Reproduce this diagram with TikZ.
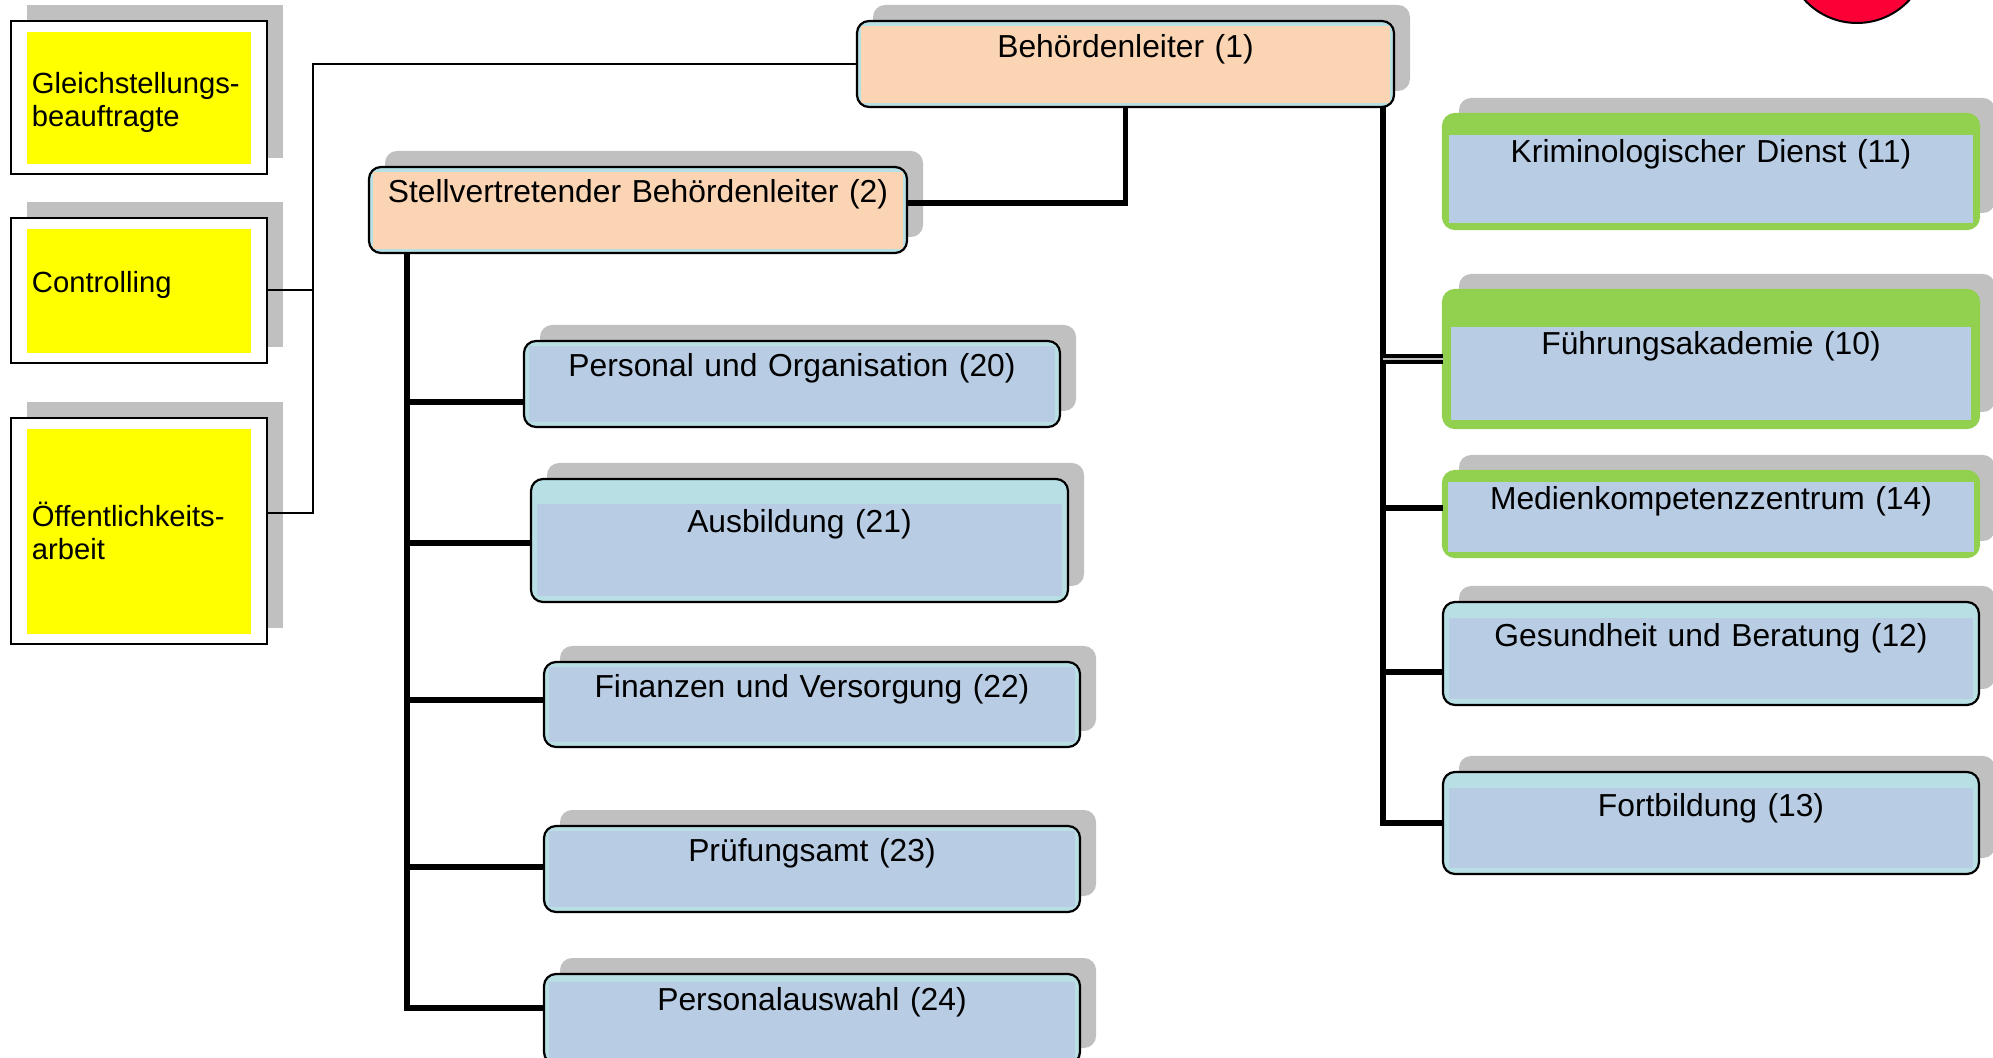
\documentclass[tikz,border=0pt]{standalone}
\usepackage{fontspec}
\setmainfont{Liberation Sans}
\usetikzlibrary{positioning,shadows}

\definecolor{peach}{RGB}{251,212,180}
\definecolor{bandcyan}{RGB}{183,223,228}
\definecolor{unitblue}{RGB}{184,204,228}
\definecolor{unitgreen}{RGB}{146,208,80}
\definecolor{staffyellow}{RGB}{255,255,0}
\definecolor{shadowgrey}{RGB}{192,192,192}
\definecolor{logored}{RGB}{250,0,55}

\newcommand{\unitfont}{\fontsize{15.9pt}{18pt}\selectfont}
\newcommand{\stafffont}{\fontsize{14.6pt}{16.8pt}\selectfont}

\tikzset{
  grey shadow/.style={drop shadow={shadow xshift=8pt, shadow yshift=8pt, fill=shadowgrey, opacity=1}},
  unit/.style={draw, line width=1.1pt, rounded corners=6pt, inner sep=0pt, outer sep=0pt, text width=268pt, align=center, font=\unitfont, text height=18pt, grey shadow},
  band/.style n args={4}{fill=#1, path picture={\fill[#2, sharp corners] ([shift={(#4,-#3)}]path picture bounding box.north west) rectangle ([shift={(-#4,#4)}]path picture bounding box.south east);}},
  staff/.style={draw, line width=1.2pt, fill=white, inner xsep=10.5pt, inner ysep=0pt, outer sep=0pt, text width=107pt, align=left, font=\stafffont, grey shadow, path picture={\fill[staffyellow] ([shift={(8pt,-5.5pt)}]path picture bounding box.north west) rectangle ([shift={(-8pt,5pt)}]path picture bounding box.south east);}},
  trunk/.style={line width=2.8pt},
  staffline/.style={line width=1pt},
}

\begin{document}
\begin{tikzpicture}[x=0.5pt, y=-0.5pt]

  \useasboundingbox (0,0) rectangle (1993,1058);
  \clip (0,0) rectangle (1993,1058);

  % Red mark at the top edge
  \draw[fill=logored, line width=1pt] (1857,-48) circle (35.5pt);

  % Staff boxes on the left
  \node (gleich) [staff, minimum height=76.5pt, text height=15.5pt, anchor=north west] at (11,21) {Gleichstellungs-\\beauftragte};
  \node (ctrl) [staff, minimum height=72.5pt, text depth=9pt, below=22pt of gleich] {Controlling};
  \node (oeff) [staff, minimum height=113pt, below=27.5pt of ctrl] {Öffentlichkeits-\\arbeit};

  % Head and deputy
  \node (beh) [unit, band={bandcyan}{peach}{2.5pt}{2pt}, text width=268.5pt, text height=18.5pt, text depth=24.5pt, anchor=north west] at (857,21) {Behördenleiter (1)};
  \node (stell) [unit, band={bandcyan}{peach}{2.5pt}{2pt}, text width=269pt, text depth=25pt, anchor=north west] at (369,167) {Stellvertretender Behördenleiter (2)};

  % Units under the deputy
  \node (personal) [unit, band={bandcyan}{unitblue}{2.5pt}{2.5pt}, text depth=25pt, anchor=north west] at (524,341) {Personal und Organisation (20)};
  \node (ausb) [unit, band={bandcyan}{unitblue}{12.5pt}{3pt}, text width=268.5pt, text height=27pt, text depth=34.5pt, anchor=north west] at (531,479) {Ausbildung (21)};
  \node (fin) [unit, band={bandcyan}{unitblue}{2.5pt}{2.5pt}, text depth=24.5pt, anchor=north west] at (544,662) {Finanzen und Versorgung (22)};
  \node (pruef) [unit, band={bandcyan}{unitblue}{2.5pt}{2.5pt}, text depth=25pt, anchor=north west] at (544,826) {Prüfungsamt (23)};
  \node (pauswahl) [unit, band={bandcyan}{unitblue}{4pt}{2.5pt}, text depth=27pt, anchor=north west] at (544,974) {Personalauswahl (24)};

  % Units under the head
  \node (krim) [unit, draw=unitgreen, band={unitgreen}{unitblue}{10.5pt}{3pt}, text height=24.5pt, text depth=33pt, anchor=north west] at (1443,114) {Kriminologischer Dienst (11)};
  \node (fuehr) [unit, draw=unitgreen, band={unitgreen}{unitblue}{18.5pt}{4pt}, text height=32.5pt, text depth=36.5pt, below=30.5pt of krim] {Führungsakademie (10)};
  \node (medien) [unit, draw=unitgreen, band={unitgreen}{unitblue}{5.5pt}{2.5pt}, text height=19.5pt, text depth=23.5pt, below=21.5pt of fuehr] {Medienkompetenzzentrum (14)};
  \node (gesund) [unit, band={bandcyan}{unitblue}{8pt}{3pt}, text height=22.5pt, text depth=29pt, below=22.5pt of medien] {Gesundheit und Beratung (12)};
  \node (fortb) [unit, band={bandcyan}{unitblue}{8pt}{3pt}, text height=22.5pt, text depth=28.5pt, below=33.5pt of gesund] {Fortbildung (13)};

  % Thin staff lines
  \coordinate (staffx) at ([xshift=23pt]ctrl.east);
  \coordinate (oeffconn) at ([yshift=9pt]oeff.east);
  \draw[staffline] (beh.west) -| (staffx |- oeffconn) -- (oeffconn);
  \draw[staffline] (ctrl.east) -- (staffx);

  % Head to deputy
  \coordinate (depconn) at ([yshift=3.5pt]stell.east);
  \draw[trunk] (beh.south) |- (depconn);

  % Left trunk
  \coordinate (ltop) at ([xshift=19pt]stell.south west);
  \coordinate (c20) at ([yshift=-9pt]personal.west);
  \coordinate (c21) at ([yshift=-1.25pt]ausb.west);
  \coordinate (c22) at ([yshift=2.25pt]fin.west);
  \coordinate (c23) at ([yshift=1pt]pruef.west);
  \coordinate (c24) at ([yshift=5.5pt]pauswahl.west);
  \draw[trunk] (ltop) |- (c24);
  \draw[trunk] (ltop |- c20) -- (c20);
  \draw[trunk] (ltop |- c21) -- (c21);
  \draw[trunk] (ltop |- c22) -- (c22);
  \draw[trunk] (ltop |- c23) -- (c23);

  % Right trunk
  \coordinate (rtop) at ([xshift=-5.5pt]beh.south east);
  \coordinate (c14) at ([yshift=3pt]medien.west);
  \coordinate (c12) at ([yshift=-9.25pt]gesund.west);
  \draw[trunk] (rtop) |- (fortb.west);
  \draw[trunk] (rtop |- c14) -- (c14);
  \draw[trunk] (rtop |- c12) -- (c12);
  \draw[double=shadowgrey, line width=2.3pt, double distance=0.8pt] (rtop |- fuehr.west) -- (fuehr.west);

\end{tikzpicture}
\end{document}
